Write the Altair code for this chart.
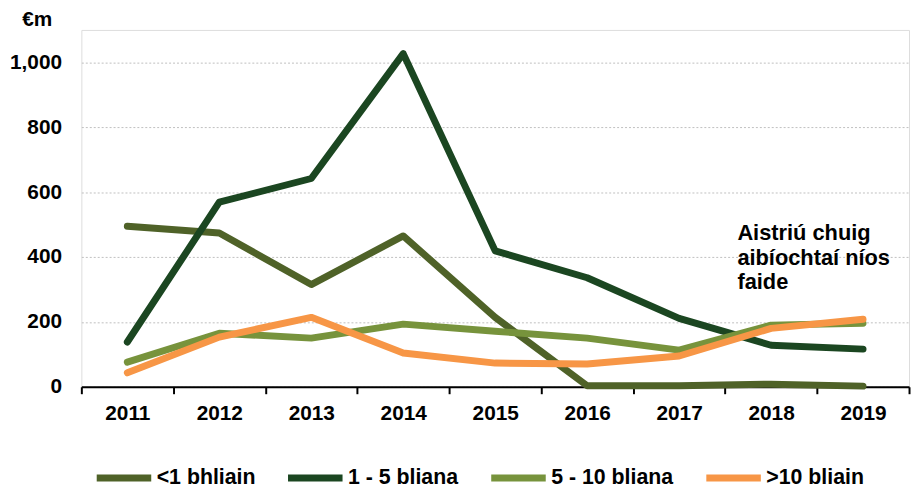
import altair as alt
import pandas as pd

years = ["2011", "2012", "2013", "2014", "2015", "2016", "2017", "2018", "2019"]
series = ["<1 bhliain", "1 - 5 bliana", "5 - 10 bliana", ">10 bliain"]
colors = ["#4F6228", "#1B4621", "#77933C", "#F79646"]

lt1 = [495, 474, 315, 465, 214, 3, 3, 8, 2]
y1_5 = [138, 569, 642, 1027, 419, 336, 211, 128, 116]
y5_10 = [76, 165, 150, 193, 171, 150, 113, 190, 196]
gt10 = [43, 153, 214, 104, 73, 70, 95, 180, 208]

annotation = "Aistriú chuig\naibíochtaí níos\nfaide"
y_ticks = [0, 200, 400, 600, 800, 1000]

rows = []
for s, vals in zip(series, [lt1, y1_5, y5_10, gt10]):
    for yr, v in zip(years, vals):
        rows.append({"year": yr, "value": v, "series": s})
df = pd.DataFrame(rows)

ann_df = pd.DataFrame([{"year": "2018", "value": 503, "label": annotation}])

FONT = "Liberation Sans"
FS = 21

x_enc = alt.X(
    "year:O",
    bandPosition=0.5,
    scale=alt.Scale(type="band", paddingInner=0, paddingOuter=0, domain=years),
    axis=alt.Axis(
        title=None, labelAngle=0, tickBand="extent",
        tickSize=7, tickWidth=2, tickColor="black",
        domainColor="black", domainWidth=2,
        labelFontSize=FS, labelFontWeight="bold", labelPadding=9,
        labelColor="black", grid=False, labelFont=FONT,
    ),
)

y_enc = alt.Y(
    "value:Q",
    scale=alt.Scale(domain=[0, 1100]),
    axis=alt.Axis(
        values=y_ticks, format=",.0f", domain=False, ticks=False,
        gridDash=[2, 2], gridColor="#bfbfbf", gridWidth=1,
        labelFontSize=FS, labelFontWeight="bold", labelPadding=20,
        labelColor="black", labelFont=FONT,
        title="€m", titleAngle=0, titleX=-45, titleY=-10,
        titleAlign="center", titleBaseline="middle",
        titleFontSize=FS, titleFontWeight="bold", titleColor="black", titleFont=FONT,
    ),
)

lines = alt.Chart(df).mark_line(strokeWidth=7, strokeCap="round", strokeJoin="round").encode(
    x=x_enc,
    y=y_enc,
    color=alt.Color(
        "series:N",
        sort=series,
        scale=alt.Scale(domain=series, range=colors),
        legend=alt.Legend(
            title=None, orient="none", legendX=12, legendY=421,
            direction="horizontal", symbolType="stroke", symbolSize=3025,
            symbolStrokeWidth=7, labelFontSize=21.5, labelFontWeight="bold",
            labelFont=FONT, labelColor="black", columnPadding=18, labelOffset=2,
            padding=0,
        ),
    ),
)

text = alt.Chart(ann_df).mark_text(
    align="left", baseline="top", dx=-34, fontSize=22, fontWeight="bold",
    font=FONT, lineBreak="\n", lineHeight=24.5, color="black",
).encode(
    x=alt.X("year:O", bandPosition=0.5),
    y=alt.Y("value:Q"),
    text="label:N",
)

chart = (
    alt.layer(lines, text)
    .properties(
        width=835, height=360,
        autosize=alt.AutoSizeParams(type="none"),
        padding={"left": 74, "top": 20, "right": 3, "bottom": 100},
    )
    .configure_view(stroke=None)
    .configure(font=FONT)
)

chart.save("out.html", embed_options={"renderer": "svg", "actions": False})
